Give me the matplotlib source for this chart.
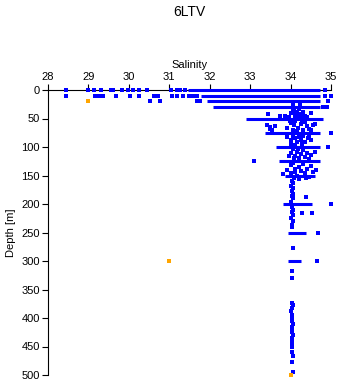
import numpy as np
import matplotlib
matplotlib.use("Agg")
import matplotlib.pyplot as plt

plt.rcParams['font.family'] = ['Liberation Sans', 'DejaVu Sans']

title = "6LTV"
sal_ticks = [28, 29, 30, 31, 32, 33, 34, 35]
depth_ticks = list(range(0, 501, 50))

# dense horizontal runs of samples at standard depths: depth, min salinity, max salinity
run_depth = [0, 10, 20, 30, 50, 75, 100, 125, 150, 200, 250, 300]
run_smin = [31.47, 31.78, 31.94, 32.07, 32.90, 33.36, 33.63, 33.72, 33.85, 33.81, 33.94, 33.94]
run_smax = [34.74, 34.74, 34.74, 34.74, 34.80, 34.74, 34.74, 34.74, 34.60, 34.54, 34.38, 34.25]

# single samples (salinity, depth)
pt_sal = [
    28.45, 28.98, 29.15, 29.31, 29.55, 29.62, 29.84, 29.99, 30.11, 30.26, 30.46,
    31.05, 31.18, 31.26, 31.40, 34.84,
    28.45, 29.17, 29.25, 29.35, 29.67, 30.03, 30.25, 30.63, 30.73, 31.06, 31.20,
    31.35, 31.49, 31.58, 31.68, 34.85, 34.99,
    30.52, 30.77, 31.68, 31.76, 34.93, 34.79, 34.91,
    34.99, 34.93, 33.09, 34.99, 34.68, 34.65,
    33.45, 33.75, 33.85, 34.00, 34.05, 34.10, 34.15, 34.20, 34.25, 34.30, 34.35,
    34.40, 34.50, 33.95, 34.08, 34.22, 34.12, 34.28, 34.06, 34.23,
    33.42, 33.50, 33.55, 33.62, 33.48, 33.90, 34.02, 34.08, 34.12, 34.18, 34.25,
    34.30, 34.35, 34.40, 34.45, 34.55, 34.50, 34.05, 34.15, 33.98, 34.28, 34.60,
    33.90, 34.00, 34.05, 34.10, 34.15, 34.20, 34.25, 34.30, 34.35, 34.42, 34.50,
    34.02, 34.12, 34.28, 34.45,
    34.00, 34.05, 34.10, 34.15, 34.20, 34.25, 34.30, 34.35, 34.40, 34.50, 34.60,
    34.08, 34.18, 34.45, 33.95,
    33.82, 33.90, 34.00, 34.02, 34.05, 34.10, 34.15, 34.20, 34.25, 34.30, 34.35,
    34.40, 34.45, 34.50, 34.55, 34.62, 34.08, 34.22, 34.38, 34.12,
    34.03, 34.05, 34.02, 34.06, 34.04, 34.07, 34.03, 34.37, 34.05, 34.02,
    34.04, 34.06, 34.03, 34.29, 34.52, 34.05, 34.02, 34.06, 34.04, 34.03,
    34.06, 34.04, 34.04,
    34.03, 34.05, 34.04, 34.02, 34.03, 34.04, 34.03, 34.05, 34.04, 34.03,
    34.04, 34.05, 34.03, 34.04, 34.03, 34.04, 34.03, 34.05, 34.04, 34.06,
]
pt_depth = [
    0, 0, 0, 0, 0, 0, 0, 0, 0, 0, 0,
    0, 0, 0, 0, 0,
    10, 10, 10, 10, 10, 10, 10, 10, 10, 10, 10,
    10, 10, 10, 10, 10, 10,
    20, 20, 20, 20, 20, 30, 30,
    75, 100, 125, 200, 250, 300,
    42, 46, 45, 40, 36, 44, 38, 46, 42, 39, 45,
    47, 40, 48, 32, 33, 48, 48, 26, 24,
    62, 65, 70, 63, 68, 67, 58, 62, 55, 66, 60,
    70, 57, 64, 68, 62, 71, 70, 72, 54, 53, 59,
    82, 88, 80, 85, 91, 83, 87, 80, 92, 85, 88,
    94, 96, 95, 81,
    110, 104, 115, 108, 119, 112, 106, 117, 110, 114, 108,
    120, 103, 121, 116,
    148, 140, 132, 145, 128, 138, 150, 135, 142, 130, 146,
    138, 152, 133, 144, 140, 155, 156, 155, 143,
    160, 163, 168, 172, 177, 182, 186, 188, 190, 196,
    206, 210, 214, 216, 216, 220, 225, 230, 236, 240,
    277, 317, 330,
    374, 377, 383, 388, 394, 399, 405, 410, 415, 420,
    425, 430, 435, 439, 445, 450, 460, 467, 477, 494,
]

# flagged samples
flag_sal = [29.0, 31.0, 34.02]
flag_depth = [20, 300, 500]

fig = plt.figure(figsize=(3.41, 3.84), dpi=100)
ax = fig.add_axes([48 / 341, 1 - 375 / 384, 283 / 341, 285 / 384])

ax.hlines(run_depth, run_smin, run_smax, colors='#0000ff', linewidth=2.2,
          clip_on=False, zorder=3)
ax.scatter(pt_sal, pt_depth, s=5.5, marker='s', color='#0000ff', linewidths=0,
           clip_on=False, zorder=3)
ax.scatter(flag_sal, flag_depth, s=5.5, marker='s', color='#ffa500', linewidths=0,
           clip_on=False, zorder=4)

ax.set_xlim(28, 35)
ax.set_ylim(500, 0)
ax.xaxis.tick_top()
ax.xaxis.set_label_position('top')
ax.set_xticks(sal_ticks)
ax.set_yticks(depth_ticks)
ax.set_xlabel("Salinity", fontsize=8, labelpad=3)
ax.set_ylabel("Depth [m]", fontsize=8, labelpad=4)
ax.tick_params(labelsize=8, length=4, width=0.8, pad=2)
for side in ['right', 'bottom']:
    ax.spines[side].set_visible(False)
ax.spines['left'].set_linewidth(0.8)
ax.spines['top'].set_linewidth(0.8)
fig.text((48 + 331) / 2 / 341, 1 - 12 / 384, title, ha='center', va='center', fontsize=10)

fig.savefig("out.png", dpi=100)
